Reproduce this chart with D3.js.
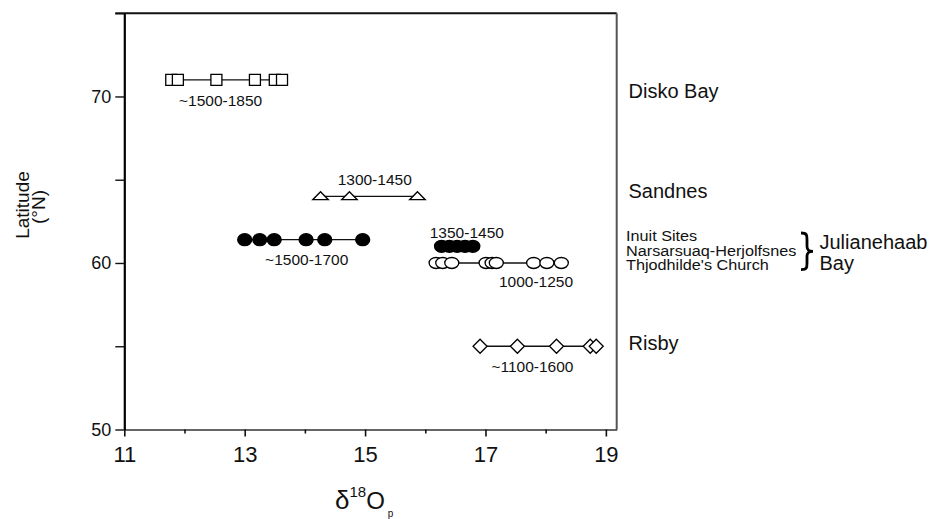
<!DOCTYPE html>
<html>
<head>
<meta charset="utf-8">
<script src="https://cdn.jsdelivr.net/npm/d3@7"></script>
<style>
  body { margin: 0; background: #fff; }
  text { font-family: "Liberation Sans", Arial, Helvetica, sans-serif; fill: #111; }
</style>
</head>
<body>
<div id="chart"></div>
<script>
// d18O values per site
let diskoBay = [11.78, 11.89, 12.53, 13.17, 13.50, 13.62];
let sandnes = [14.26, 14.74, 15.87];
let inuitSites = [13.0, 13.25, 13.49, 14.02, 14.33, 14.96];
let narsarsuaq = [16.27, 16.40, 16.53, 16.66, 16.79];
let thjodhilde = [16.18, 16.29, 16.44, 17.01, 17.11, 17.18, 17.80, 18.02, 18.26];
let risby = [16.91, 17.53, 18.18, 18.74, 18.84];

let siteNames = ["Disko Bay", "Sandnes", "Inuit Sites", "Narsarsuaq-Herjolfsnes", "Thjodhilde's Church", "Risby"];
let siteLat = [71, 64, 61.4, 61.0, 60, 55];
let periods = ["~1500-1850", "1300-1450", "~1500-1700", "1350-1450", "1000-1250", "~1100-1600"];
// where the period labels sit (data units)
let periodX = [12.60, 15.16, 14.03, 16.69, 17.84, 17.78];
let periodLat = [69.43, 64.68, 59.88, 61.50, 58.56, 53.45];

let xTicks = [11, 12, 13, 14, 15, 16, 17, 18, 19];
let yTicks = [50, 55, 60, 65, 70, 75];

let width = 935,
    height = 519;

let svg = d3.select("#chart")
    .append("svg")
    .attr("width", width)
    .attr("height", height);

let x = d3.scaleLinear().domain([11, 19.18]).range([124.3, 616.7]);
let y = d3.scaleLinear().domain([50, 75]).range([429.5, 13.2]);

let series = [
    {values: diskoBay, shape: "square", fill: "#fff", line: true},
    {values: sandnes, shape: "triangle", fill: "#fff", line: true},
    {values: inuitSites, shape: "circle", fill: "#000", line: true},
    {values: narsarsuaq, shape: "circle", fill: "#000", line: false},
    {values: thjodhilde, shape: "ocircle", fill: "#fff", line: true},
    {values: risby, shape: "diamond", fill: "#fff", line: true}
].map(function(d, i) { d.lat = siteLat[i]; d.name = siteNames[i]; return d; });

let shapes = {
    square: "M-5.5,-5.5h11v11h-11Z",
    triangle: "M0,-4.7L7.8,3.3H-7.8Z",
    circle: "M-7,0a7,6 0 1,0 14,0a7,6 0 1,0 -14,0Z",
    ocircle: "M-7,0a7,5.5 0 1,0 14,0a7,5.5 0 1,0 -14,0Z",
    diamond: "M0,-7L7,0L0,7L-7,0Z"
};

// frame: top and right borders
svg.append("line")
    .attr("x1", x(11) - 9).attr("x2", x(19.18))
    .attr("y1", y(75)).attr("y2", y(75))
    .style("stroke", "#111").style("stroke-width", 2);
svg.append("line")
    .attr("x1", x(19.18)).attr("x2", x(19.18))
    .attr("y1", y(75)).attr("y2", y(50))
    .style("stroke", "#555").style("stroke-width", 2);

// x axis
let xAxis = svg.append("g")
    .attr("transform", "translate(0," + y(50) + ")")
    .call(d3.axisBottom(x)
        .tickValues(xTicks)
        .tickSize(7)
        .tickPadding(10)
        .tickSizeOuter(0)
        .tickFormat(function(d) { return d % 2 === 1 ? d : ""; }));
xAxis.select(".domain").style("stroke", "#333").style("stroke-width", 1.6);
xAxis.selectAll(".tick line")
    .attr("y2", function(d) { return d % 2 === 1 ? 7 : 4; })
    .style("stroke", "#111").style("stroke-width", 1.6);
xAxis.selectAll(".tick text")
    .style("font-size", "22px")
    .style("font-family", "'Liberation Sans', Arial, sans-serif")
    .style("fill", "#111");

// y axis
let yAxis = svg.append("g")
    .attr("transform", "translate(" + x(11) + ",0)")
    .call(d3.axisLeft(y)
        .tickValues(yTicks)
        .tickSize(9)
        .tickPadding(4)
        .tickSizeOuter(0)
        .tickFormat(function(d) { return d % 10 === 0 && d < 75 ? d : ""; }));
yAxis.select(".domain").style("stroke", "#000").style("stroke-width", 2.2);
yAxis.selectAll(".tick line").style("stroke", "#111").style("stroke-width", 1.4);
yAxis.selectAll(".tick text")
    .style("font-size", "18px")
    .style("font-family", "'Liberation Sans', Arial, sans-serif")
    .style("fill", "#111");

// connecting lines
svg.selectAll(".range")
    .data(series.filter(function(d) { return d.line; }))
    .enter()
    .append("line")
    .attr("class", "range")
    .attr("x1", function(d) { return x(d3.min(d.values)); })
    .attr("x2", function(d) { return x(d3.max(d.values)); })
    .attr("y1", function(d) { return y(d.lat); })
    .attr("y2", function(d) { return y(d.lat); })
    .style("stroke", "#111")
    .style("stroke-width", 1.3);

// markers
let groups = svg.selectAll(".site")
    .data(series)
    .enter()
    .append("g")
    .attr("class", "site");

groups.selectAll("path")
    .data(function(d) { return d.values.map(function(v) { return {v: v, s: d}; }); })
    .enter()
    .append("path")
    .attr("d", function(d) { return shapes[d.s.shape]; })
    .attr("transform", function(d) { return "translate(" + x(d.v) + "," + y(d.s.lat) + ")"; })
    .style("fill", function(d) { return d.s.fill; })
    .style("stroke", "#000")
    .style("stroke-width", 1.3);

// period labels
svg.selectAll(".period")
    .data(periods)
    .enter()
    .append("text")
    .attr("class", "period")
    .attr("x", function(d, i) { return x(periodX[i]); })
    .attr("y", function(d, i) { return y(periodLat[i]); })
    .attr("text-anchor", "middle")
    .style("font-size", "15.5px")
    .text(function(d) { return d; });

// site names on the right
let bigLabels = [
    {text: "Disko Bay", lat: 70.3},
    {text: "Sandnes", lat: 64.3},
    {text: "Risby", lat: 55.2}
];
svg.selectAll(".bigsite")
    .data(bigLabels)
    .enter()
    .append("text")
    .attr("class", "bigsite")
    .attr("x", 628.5)
    .attr("y", function(d) { return y(d.lat); })
    .attr("dy", "0.35em")
    .style("font-size", "20px")
    .text(function(d) { return d.text; });

let smallLabels = [
    {text: siteNames[2], lat: 61.62},
    {text: siteNames[3], lat: 60.74},
    {text: siteNames[4], lat: 59.86}
];
// these are drawn a little wider than the font, as in the original
svg.selectAll(".smallsite")
    .data(smallLabels)
    .enter()
    .append("text")
    .attr("class", "smallsite")
    .attr("transform", function(d) { return "translate(626," + y(d.lat) + ") scale(1.12,1)"; })
    .attr("dy", "0.35em")
    .style("font-size", "14.5px")
    .text(function(d) { return d.text; });

// brace
let bt = y(61.8), bb = y(59.6), bm = (bt + bb) / 2, bx = 801;
svg.append("path")
    .attr("d", "M" + bx + "," + bt +
        " C" + (bx + 6) + "," + bt + " " + (bx + 6) + "," + (bt + 2) + " " + (bx + 6) + "," + (bt + 7) +
        " L" + (bx + 6) + "," + (bm - 5) +
        " C" + (bx + 6) + "," + (bm - 1) + " " + (bx + 8) + "," + bm + " " + (bx + 12) + "," + bm +
        " C" + (bx + 8) + "," + bm + " " + (bx + 6) + "," + (bm + 1) + " " + (bx + 6) + "," + (bm + 5) +
        " L" + (bx + 6) + "," + (bb - 7) +
        " C" + (bx + 6) + "," + (bb - 2) + " " + (bx + 6) + "," + bb + " " + bx + "," + bb)
    .style("fill", "none")
    .style("stroke", "#000")
    .style("stroke-width", 2.8);

svg.append("text")
    .attr("x", 819.5).attr("y", y(61.25)).attr("dy", "0.35em")
    .style("font-size", "20px")
    .text("Julianehaab");
svg.append("text")
    .attr("x", 819.5).attr("y", y(60.0)).attr("dy", "0.35em")
    .style("font-size", "20px")
    .text("Bay");

// axis titles
svg.append("text")
    .attr("transform", "translate(29,205) rotate(-90)")
    .attr("text-anchor", "middle")
    .style("font-size", "19px")
    .text("Latitude");
svg.append("text")
    .attr("transform", "translate(45,207) rotate(-90)")
    .attr("text-anchor", "middle")
    .style("font-size", "19px")
    .text("(°N)");

let xt = svg.append("text")
    .attr("x", 335)
    .attr("y", 509);
xt.append("tspan").style("font-size", "26px").text("δ");
xt.append("tspan").attr("dy", -12).style("font-size", "15px").text("18");
xt.append("tspan").attr("dy", 12).style("font-size", "24px").text("O");
xt.append("tspan").attr("dx", 3).attr("dy", 8).style("font-size", "10px").text("p");
</script>
</body>
</html>
